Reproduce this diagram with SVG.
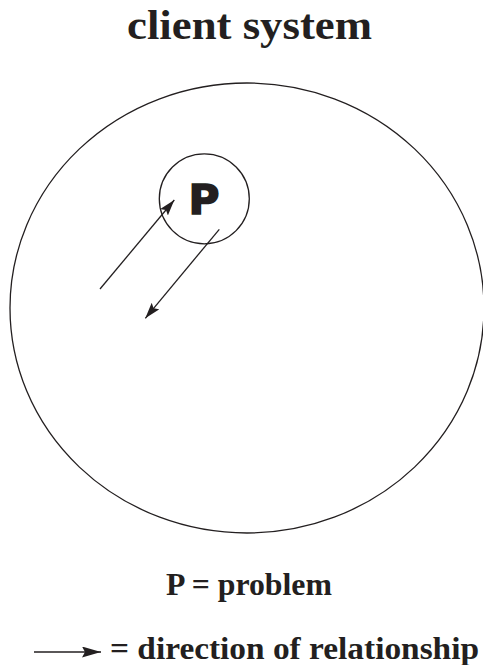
<svg xmlns="http://www.w3.org/2000/svg" width="483" height="665" viewBox="0 0 483 665">
<style>
.serif{font-family:"Liberation Serif","Times New Roman",serif;font-weight:bold;fill:#231f20}
.ln{stroke:#231f20;stroke-width:1.3;fill:none}
</style>
<defs>
<marker id="ah" viewBox="0 0 16 10" refX="16" refY="5" markerWidth="16" markerHeight="10" markerUnits="userSpaceOnUse" orient="auto">
<path d="M0,0 L16,5 L0,10 L3,5 Z" fill="#231f20"/>
</marker>
<marker id="ah2" viewBox="0 0 19 11" refX="19" refY="5.5" markerWidth="19" markerHeight="11" markerUnits="userSpaceOnUse" orient="auto">
<path d="M0,0 L19,5.5 L0,11 L3,5.5 Z" fill="#231f20"/>
</marker>
</defs>
<rect width="483" height="665" fill="#fff"/>
<g id="title">
<text class="serif" x="127" y="39" font-size="42" textLength="245" lengthAdjust="spacingAndGlyphs">client system</text>
</g>
<g id="client-system">
<ellipse class="ln" cx="247" cy="308" rx="237" ry="225"/>
</g>
<g id="problem">
<circle class="ln" cx="204.3" cy="198.8" r="45"/>
<text x="204" y="214" text-anchor="middle" font-family="'DejaVu Sans',sans-serif" font-weight="bold" font-size="40" fill="#231f20" stroke="#231f20" stroke-width="1.5" textLength="31" lengthAdjust="spacingAndGlyphs">P</text>
</g>
<g id="connectors">
<line class="ln" x1="100" y1="289" x2="174.3" y2="200" marker-end="url(#ah)"/>
<line class="ln" x1="219.3" y1="229.3" x2="145.3" y2="318.3" marker-end="url(#ah)"/>
</g>
<g id="legend">
<text class="serif" x="166" y="595" font-size="31" textLength="166" lengthAdjust="spacingAndGlyphs">P = problem</text>
<line class="ln" stroke-width="1.8" x1="34" y1="652" x2="101" y2="652" marker-end="url(#ah2)"/>
<text class="serif" x="110" y="659" font-size="32" textLength="369" lengthAdjust="spacingAndGlyphs">= direction of relationship</text>
</g>
</svg>
